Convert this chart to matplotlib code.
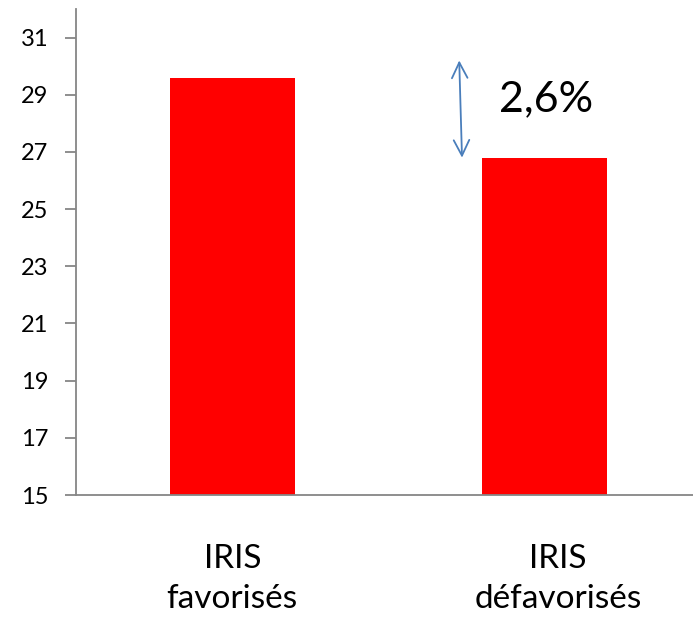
"""Bar chart comparing favoured and disadvantaged IRIS areas."""
import matplotlib.pyplot as plt
from matplotlib.transforms import ScaledTranslation

categories = ["IRIS\nfavorisés", "IRIS\ndéfavorisés"]
values = [29.6, 26.8]
gap_label = "2,6%"
gap_top = 30.2
y_ticks = [15, 17, 19, 21, 23, 25, 27, 29, 31]

plt.rcParams["font.family"] = ["Lato", "DejaVu Sans"]

fig = plt.figure(figsize=(6.93, 6.19), dpi=100)
ax = fig.add_axes([76 / 693, 124 / 619, 617 / 693, 486 / 619])

positions = range(len(categories))
ax.bar(positions, values, width=0.4, color="#ff0000", bottom=0)
ax.set_xlim(-0.5, 1.474)
ax.set_ylim(15, 32)
ax.set_yticks(y_ticks)
ax.set_xticks(list(positions))
ax.set_xticklabels(categories, fontsize=24, linespacing=1.45)

axis_grey = "#868686"
for side in ("top", "right"):
    ax.spines[side].set_visible(False)
for side in ("left", "bottom"):
    ax.spines[side].set_color(axis_grey)
    ax.spines[side].set_linewidth(1.3)
ax.tick_params(axis="y", direction="out", length=8, width=1.3, color=axis_grey,
               labelsize=17, pad=12)
ax.tick_params(axis="x", length=0, pad=35)

# second category label sits a little right of its bar
lbl = ax.get_xticklabels()[1]
lbl.set_transform(lbl.get_transform() + ScaledTranslation(0.13, 0, fig.dpi_scale_trans))

# double-headed arrow marking the gap between the two bars
ax.annotate("", xy=(0.735, values[1]), xytext=(0.726, gap_top),
            arrowprops=dict(arrowstyle="<->", color="#4a7ebb", lw=1.3,
                            mutation_scale=28, shrinkA=0, shrinkB=0))
ax.text(1.004, 28.83, gap_label, fontsize=31, ha="center", va="center")

fig.savefig("out.png", dpi=100)
